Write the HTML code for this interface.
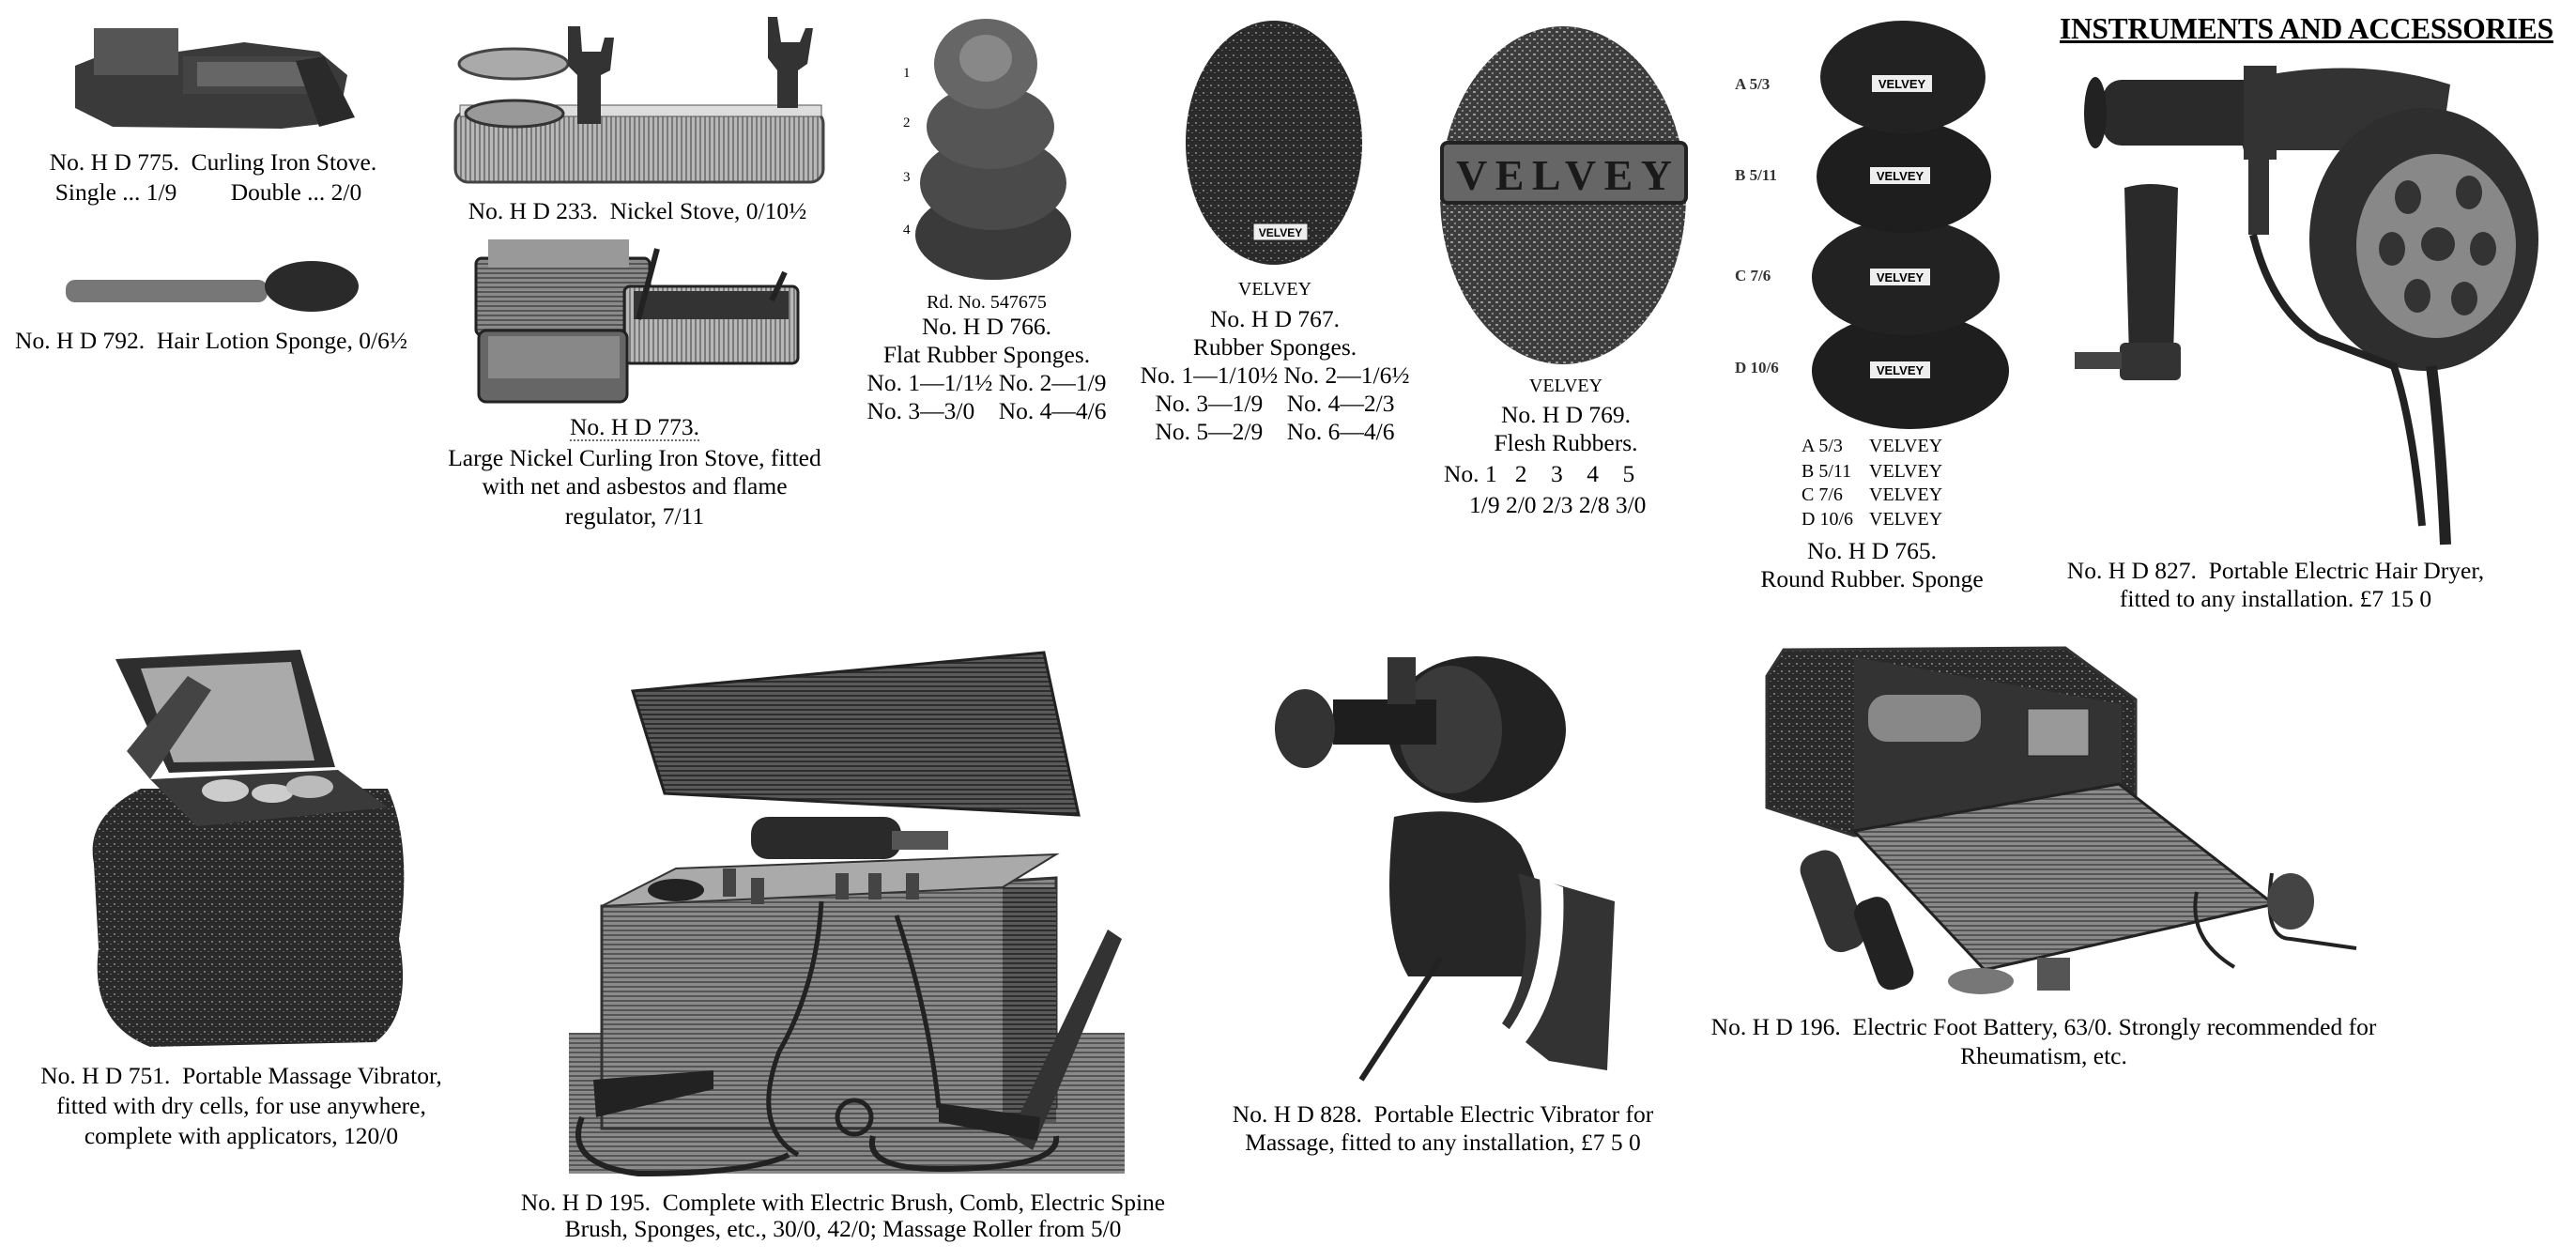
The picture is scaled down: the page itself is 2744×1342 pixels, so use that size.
<!DOCTYPE html>
<html><head><meta charset="utf-8">
<style>
html,body{margin:0;padding:0;background:#fff;}
body{width:2744px;height:1342px;position:relative;overflow:hidden;font-family:"Liberation Serif",serif;color:#000;}
.t{position:absolute;white-space:nowrap;font-size:25.5px;line-height:30px;transform:translateX(-50%);text-align:center;}
.l{position:absolute;white-space:nowrap;font-size:25.5px;line-height:30px;}
.s{font-size:20px;}
svg{position:absolute;left:0;top:0;}
</style></head><body>
<svg width="2744" height="1342" viewBox="0 0 2744 1342">
<defs>
<pattern id="hl" width="6" height="5" patternUnits="userSpaceOnUse"><rect width="6" height="5" fill="#8a8a8a"/><rect width="6" height="2" fill="#555"/></pattern>
<pattern id="hd" width="6" height="5" patternUnits="userSpaceOnUse"><rect width="6" height="5" fill="#5a5a5a"/><rect width="6" height="2" fill="#2e2e2e"/></pattern>
<pattern id="vl" width="5" height="6" patternUnits="userSpaceOnUse"><rect width="5" height="6" fill="#b8b8b8"/><rect width="2" height="6" fill="#7a7a7a"/></pattern>
<pattern id="nz" width="8" height="8" patternUnits="userSpaceOnUse"><rect width="8" height="8" fill="#2a2a2a"/><rect x="1" y="2" width="2" height="2" fill="#777"/><rect x="5" y="5" width="2" height="1" fill="#666"/></pattern>
<pattern id="nz2" width="8" height="8" patternUnits="userSpaceOnUse"><rect width="8" height="8" fill="#3c3c3c"/><rect x="1" y="1" width="3" height="2" fill="#999"/><rect x="5" y="5" width="2" height="2" fill="#888"/></pattern>
</defs>
<!-- 775 curling iron stove -->
<path d="M80 70 L130 50 L190 55 L260 45 L340 55 L370 80 L360 130 L300 137 L120 135 L80 115 Z" fill="#3a3a3a"/>
<rect x="100" y="30" width="90" height="50" fill="#555"/>
<rect x="195" y="60" width="150" height="40" fill="#444"/>
<rect x="210" y="66" width="120" height="26" fill="#666"/>
<path d="M315 65 L345 60 L378 125 L340 135 Z" fill="#2a2a2a"/>
<!-- 792 lotion sponge -->
<rect x="70" y="298" width="215" height="24" rx="10" fill="#777"/>
<ellipse cx="332" cy="305" rx="50" ry="27" fill="#2a2a2a"/>
<!-- 233 nickel stove -->
<rect x="485" y="118" width="392" height="76" rx="14" fill="url(#vl)" stroke="#444" stroke-width="3"/>
<rect x="490" y="112" width="385" height="12" fill="#ddd" stroke="#555"/>
<ellipse cx="547" cy="68" rx="58" ry="16" fill="#aaa" stroke="#444" stroke-width="3"/>
<ellipse cx="548" cy="121" rx="52" ry="14" fill="#999" stroke="#333" stroke-width="3"/>
<path d="M605 28 L618 28 L620 55 L640 55 L644 40 L654 40 L650 75 L640 80 L640 132 L615 132 L615 80 L605 70 Z" fill="#333"/>
<path d="M818 18 L828 18 L832 45 L852 45 L858 30 L866 30 L860 68 L850 75 L850 115 L828 115 L828 75 L818 62 Z" fill="#333"/>
<!-- 773 large stove -->
<rect x="507" y="275" width="185" height="82" rx="6" fill="url(#hl)" stroke="#222" stroke-width="3"/>
<rect x="520" y="255" width="150" height="30" fill="#999"/>
<rect x="665" y="305" width="185" height="82" rx="6" fill="url(#vl)" stroke="#222" stroke-width="3"/>
<rect x="675" y="310" width="165" height="30" fill="#333"/>
<rect x="510" y="352" width="158" height="76" rx="8" fill="#666" stroke="#222" stroke-width="3"/>
<rect x="520" y="358" width="140" height="45" fill="#888"/>
<line x1="700" y1="265" x2="680" y2="340" stroke="#222" stroke-width="6"/>
<line x1="836" y1="290" x2="822" y2="320" stroke="#222" stroke-width="6"/>
<!-- 766 flat sponges -->
<text x="962" y="82" font-size="15" font-family="Liberation Serif">1</text>
<text x="962" y="135" font-size="15" font-family="Liberation Serif">2</text>
<text x="962" y="193" font-size="15" font-family="Liberation Serif">3</text>
<text x="962" y="249" font-size="15" font-family="Liberation Serif">4</text>
<ellipse cx="1058" cy="250" rx="83" ry="48" fill="#3a3a3a"/>
<ellipse cx="1058" cy="195" rx="78" ry="50" fill="#4a4a4a"/>
<ellipse cx="1055" cy="135" rx="68" ry="45" fill="#555"/>
<ellipse cx="1050" cy="68" rx="55" ry="48" fill="#666"/>
<ellipse cx="1050" cy="62" rx="28" ry="25" fill="#888"/>
<!-- 767 -->
<ellipse cx="1357" cy="152" rx="94" ry="130" fill="url(#nz)"/>
<rect x="1335" y="238" width="58" height="18" fill="#eee" stroke="#222"/>
<text x="1364" y="252" font-size="12" text-anchor="middle" font-family="Liberation Sans" font-weight="bold">VELVEY</text>
<!-- 769 -->
<ellipse cx="1665" cy="208" rx="131" ry="180" fill="url(#nz2)"/>
<rect x="1536" y="152" width="260" height="64" rx="6" fill="#666" stroke="#222" stroke-width="4"/>
<text x="1666" y="202" font-size="46" text-anchor="middle" font-family="Liberation Serif" font-weight="bold" fill="#1a1a1a" textLength="230">VELVEY</text>
<!-- 765 round sponges -->
<ellipse cx="2035" cy="395" rx="105" ry="62" fill="#1e1e1e"/>
<ellipse cx="2030" cy="295" rx="100" ry="62" fill="#222"/>
<ellipse cx="2028" cy="188" rx="93" ry="60" fill="#1e1e1e"/>
<ellipse cx="2027" cy="82" rx="88" ry="60" fill="#222"/>
<g font-family="Liberation Sans" font-weight="bold" font-size="13" text-anchor="middle">
<rect x="1994" y="80" width="64" height="18" fill="#eee"/><text x="2026" y="94">VELVEY</text>
<rect x="1992" y="178" width="64" height="18" fill="#eee"/><text x="2024" y="192">VELVEY</text>
<rect x="1992" y="286" width="64" height="18" fill="#eee"/><text x="2024" y="300">VELVEY</text>
<rect x="1992" y="385" width="64" height="18" fill="#eee"/><text x="2024" y="399">VELVEY</text>
</g>
<g font-family="Liberation Serif" font-weight="bold" font-size="17" fill="#333">
<text x="1848" y="95">A 5/3</text><text x="1848" y="192">B 5/11</text><text x="1848" y="299">C 7/6</text><text x="1848" y="397">D 10/6</text>
</g>
<!-- 827 dryer -->
<path d="M2370 90 Q2500 55 2610 90 L2600 160 L2390 160 Z" fill="#333"/>
<ellipse cx="2582" cy="255" rx="122" ry="140" fill="#2e2e2e"/>
<ellipse cx="2595" cy="262" rx="85" ry="98" fill="#888"/>
<circle cx="2597" cy="260" r="18" fill="#333"/>
<g fill="#333"><ellipse cx="2565" cy="210" rx="14" ry="18"/><ellipse cx="2630" cy="205" rx="14" ry="18"/><ellipse cx="2548" cy="265" rx="14" ry="18"/><ellipse cx="2645" cy="265" rx="14" ry="18"/><ellipse cx="2575" cy="315" rx="14" ry="18"/><ellipse cx="2625" cy="318" rx="14" ry="18"/></g>
<rect x="2240" y="85" width="170" height="70" rx="20" fill="#2a2a2a"/>
<ellipse cx="2232" cy="120" rx="12" ry="38" fill="#222"/>
<rect x="2390" y="70" width="35" height="100" fill="#333"/>
<rect x="2395" y="150" width="22" height="100" fill="#333"/>
<path d="M2400 250 Q2420 330 2470 360 L2550 390 Q2570 450 2580 560" stroke="#222" stroke-width="8" fill="none"/>
<path d="M2590 390 Q2600 470 2605 580" stroke="#222" stroke-width="12" fill="none"/>
<path d="M2263 200 Q2290 192 2320 200 L2315 380 L2268 380 Z" fill="#2a2a2a"/>
<rect x="2258" y="365" width="65" height="40" rx="6" fill="#333"/>
<rect x="2210" y="375" width="50" height="18" fill="#444"/>
<!-- 751 massage vibrator -->
<path d="M100 920 Q90 870 150 840 L413 840 Q440 900 425 1000 Q440 1080 400 1110 L160 1115 Q95 1090 105 1010 Z" fill="url(#nz)"/>
<path d="M123 702 L320 692 L357 817 L180 823 Z" fill="#2e2e2e"/>
<path d="M150 712 L310 705 L335 810 L185 812 Z" fill="#aaa"/>
<path d="M135 800 L200 720 L225 735 L160 830 Z" fill="#444"/>
<path d="M160 830 L360 820 L413 860 L210 880 Z" fill="#3a3a3a"/>
<ellipse cx="240" cy="842" rx="25" ry="12" fill="#ccc"/><ellipse cx="290" cy="845" rx="22" ry="10" fill="#ccc"/><ellipse cx="330" cy="838" rx="25" ry="12" fill="#bbb"/>
<!-- 195 box -->
<rect x="606" y="1100" width="592" height="150" fill="url(#hl)"/>
<path d="M674 736 L1112 695 L1149 868 L708 845 Z" fill="url(#hd)" stroke="#222" stroke-width="3"/>
<path d="M641 965 L1125 935 L1125 1180 L1068 1202 L641 1202 Z" fill="url(#hl)" stroke="#333" stroke-width="3"/>
<path d="M641 965 L720 925 L1125 910 L1068 945 Z" fill="#aaa" stroke="#333" stroke-width="2"/>
<rect x="1068" y="945" width="57" height="250" fill="url(#hd)"/>
<path d="M1075 1210 L1180 990 L1195 1000 L1100 1225 Z" fill="#333"/>
<rect x="800" y="870" width="160" height="45" rx="18" fill="#2a2a2a"/>
<rect x="950" y="885" width="60" height="20" fill="#555"/>
<g fill="#444"><rect x="770" y="925" width="14" height="30"/><rect x="800" y="935" width="14" height="28"/><rect x="890" y="930" width="14" height="28"/><rect x="925" y="930" width="14" height="28"/><rect x="965" y="930" width="14" height="28"/></g>
<ellipse cx="720" cy="948" rx="30" ry="12" fill="#222"/>
<path d="M875 960 Q870 1050 830 1120 Q800 1200 850 1230" stroke="#222" stroke-width="5" fill="none"/>
<path d="M955 975 Q990 1080 1000 1180" stroke="#222" stroke-width="5" fill="none"/>
<path d="M632 1150 L760 1140 L760 1160 L635 1190 Z" fill="#222"/>
<path d="M1108 1190 L1000 1175 L1000 1195 L1105 1215 Z" fill="#222"/>
<path d="M620 1190 Q600 1240 680 1250 Q800 1250 840 1230" stroke="#222" stroke-width="6" fill="none"/>
<path d="M930 1210 Q920 1245 1000 1245 Q1130 1245 1125 1210" stroke="#222" stroke-width="6" fill="none"/>
<circle cx="910" cy="1190" r="18" fill="none" stroke="#222" stroke-width="5"/>
<!-- 828 vibrator -->
<ellipse cx="1573" cy="777" rx="95" ry="78" fill="#222"/>
<ellipse cx="1545" cy="777" rx="55" ry="68" fill="#3a3a3a"/>
<rect x="1420" y="745" width="110" height="48" fill="#1e1e1e"/>
<ellipse cx="1390" cy="776" rx="32" ry="42" fill="#333"/>
<rect x="1478" y="700" width="30" height="50" fill="#333"/>
<path d="M1485 870 Q1580 850 1620 900 Q1660 980 1630 1040 L1500 1040 Q1470 990 1485 870 Z" fill="#262626"/>
<path d="M1617 930 L1720 960 L1712 1140 L1650 1130 L1600 1090 Q1640 1030 1617 930 Z" fill="#333"/>
<path d="M1640 935 L1665 945 Q1670 1050 1625 1110 L1605 1100 Q1650 1040 1640 935 Z" fill="#fff"/>
<line x1="1535" y1="1020" x2="1450" y2="1150" stroke="#222" stroke-width="6"/>
<!-- 196 foot battery -->
<path d="M1882 720 L1900 692 L2200 690 L2275 745 L2275 880 L1975 890 L1882 860 Z" fill="url(#nz)" stroke="#333" stroke-width="3"/>
<path d="M1975 700 L2260 750 L2260 860 L1975 885 Z" fill="#333"/>
<rect x="1990" y="740" width="120" height="50" rx="20" fill="#888"/>
<rect x="2160" y="755" width="65" height="50" fill="#999" stroke="#222"/>
<path d="M1975 885 L2257 835 L2422 963 L2114 1033 Z" fill="url(#hl)" stroke="#222" stroke-width="3"/>
<rect x="1930" y="905" width="45" height="110" rx="18" fill="#333" transform="rotate(-20 1952 960)"/>
<rect x="1985" y="955" width="40" height="100" rx="15" fill="#222" transform="rotate(-20 2005 1000)"/>
<ellipse cx="2110" cy="1045" rx="35" ry="14" fill="#777"/>
<rect x="2170" y="1020" width="35" height="35" fill="#555"/>
<path d="M2340 950 Q2330 1000 2380 1030 M2420 930 Q2410 1000 2440 1000 L2510 1010" stroke="#222" stroke-width="4" fill="none"/>
<ellipse cx="2440" cy="960" rx="25" ry="30" fill="#444"/>
</svg>

<div class="l" style="left:2194px;top:13px;font-size:31.5px;line-height:36px;font-weight:bold;text-decoration:underline;letter-spacing:-0.3px;">INSTRUMENTS AND ACCESSORIES</div>

<div class="t" style="left:227px;top:158px;">No. H D 775.&nbsp; Curling Iron Stove.</div>
<div class="t" style="left:222px;top:190px;">Single ... 1/9&nbsp;&nbsp;&nbsp;&nbsp;&nbsp;&nbsp;&nbsp;&nbsp;&nbsp;Double ... 2/0</div>
<div class="t" style="left:225px;top:348px;">No. H D 792.&nbsp; Hair Lotion Sponge, 0/6½</div>
<div class="t" style="left:679px;top:210px;">No. H D 233.&nbsp; Nickel Stove, 0/10½</div>
<div class="t" style="left:676px;top:442px;border-bottom:2px dotted #666;line-height:26px;">No. H D 773.</div>
<div class="t" style="left:676px;top:473px;">Large Nickel Curling Iron Stove, fitted</div>
<div class="t" style="left:676px;top:503px;">with net and asbestos and flame</div>
<div class="t" style="left:676px;top:535px;">regulator, 7/11</div>

<div class="t s" style="left:1051px;top:307px;">Rd. No. 547675</div>
<div class="t" style="left:1051px;top:333px;">No. H D 766.</div>
<div class="t" style="left:1051px;top:363px;">Flat Rubber Sponges.</div>
<div class="t" style="left:1051px;top:393px;">No. 1—1/1½ No. 2—1/9</div>
<div class="t" style="left:1051px;top:423px;">No. 3—3/0&nbsp;&nbsp;&nbsp; No. 4—4/6</div>

<div class="t s" style="left:1358px;top:293px;">VELVEY</div>
<div class="t" style="left:1358px;top:325px;">No. H D 767.</div>
<div class="t" style="left:1358px;top:355px;">Rubber Sponges.</div>
<div class="t" style="left:1358px;top:385px;">No. 1—1/10½ No. 2—1/6½</div>
<div class="t" style="left:1358px;top:415px;">No. 3—1/9&nbsp;&nbsp;&nbsp; No. 4—2/3</div>
<div class="t" style="left:1358px;top:445px;">No. 5—2/9&nbsp;&nbsp;&nbsp; No. 6—4/6</div>

<div class="t s" style="left:1668px;top:396px;">VELVEY</div>
<div class="t" style="left:1668px;top:427px;">No. H D 769.</div>
<div class="t" style="left:1668px;top:457px;">Flesh Rubbers.</div>
<div class="l" style="left:1538px;top:490px;">No. 1&nbsp;&nbsp; 2&nbsp;&nbsp;&nbsp; 3&nbsp;&nbsp;&nbsp; 4&nbsp;&nbsp;&nbsp; 5</div>
<div class="l" style="left:1565px;top:523px;">1/9 2/0 2/3 2/8 3/0</div>

<div class="l s" style="left:1919px;top:462px;line-height:26px;">A 5/3</div><div class="l s" style="left:1991px;top:462px;line-height:26px;">VELVEY</div>
<div class="l s" style="left:1919px;top:489px;line-height:26px;">B 5/11</div><div class="l s" style="left:1991px;top:489px;line-height:26px;">VELVEY</div>
<div class="l s" style="left:1919px;top:514px;line-height:26px;">C 7/6</div><div class="l s" style="left:1991px;top:514px;line-height:26px;">VELVEY</div>
<div class="l s" style="left:1919px;top:540px;line-height:26px;">D 10/6</div><div class="l s" style="left:1991px;top:540px;line-height:26px;">VELVEY</div>
<div class="t" style="left:1994px;top:572px;">No. H D 765.</div>
<div class="t" style="left:1994px;top:602px;">Round Rubber. Sponge</div>

<div class="t" style="left:2424px;top:593px;">No. H D 827.&nbsp; Portable Electric Hair Dryer,</div>
<div class="t" style="left:2424px;top:623px;">fitted to any installation. £7 15 0</div>

<div class="t" style="left:257px;top:1131px;">No. H D 751.&nbsp; Portable Massage Vibrator,</div>
<div class="t" style="left:257px;top:1163px;">fitted with dry cells, for use anywhere,</div>
<div class="t" style="left:257px;top:1195px;">complete with applicators, 120/0</div>

<div class="t" style="left:898px;top:1266px;">No. H D 195.&nbsp; Complete with Electric Brush, Comb, Electric Spine</div>
<div class="t" style="left:898px;top:1294px;">Brush, Sponges, etc., 30/0, 42/0; Massage Roller from 5/0</div>

<div class="t" style="left:1537px;top:1172px;">No. H D 828.&nbsp; Portable Electric Vibrator for</div>
<div class="t" style="left:1537px;top:1202px;">Massage, fitted to any installation, £7 5 0</div>

<div class="t" style="left:2177px;top:1079px;">No. H D 196.&nbsp; Electric Foot Battery, 63/0. Strongly recommended for</div>
<div class="t" style="left:2177px;top:1110px;">Rheumatism, etc.</div>
</body></html>
